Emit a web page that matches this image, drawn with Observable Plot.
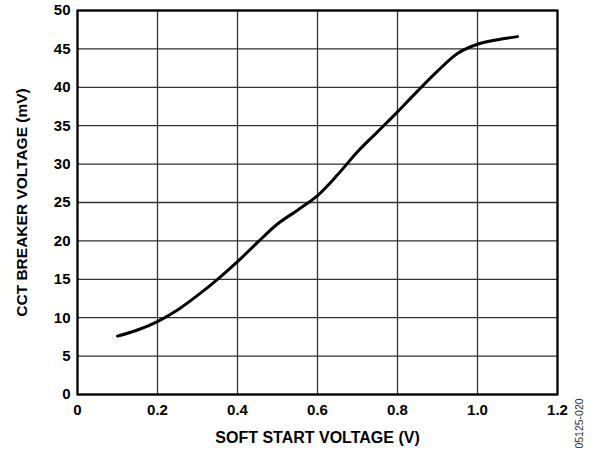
<!DOCTYPE html>
<html>
<head>
<meta charset="utf-8">
<script src="https://cdn.jsdelivr.net/npm/d3@7"></script>
<script src="https://cdn.jsdelivr.net/npm/@observablehq/plot@0.6"></script>
<style>
  html, body { margin: 0; padding: 0; background: #fff; }
  #chart svg { display: block; }
</style>
</head>
<body>
<div id="chart"></div>
<script>
const softStart = [0.1, 0.15, 0.2, 0.25, 0.3, 0.35, 0.4, 0.45, 0.5, 0.55, 0.6, 0.65, 0.7, 0.75, 0.8, 0.85, 0.9, 0.95, 1.0, 1.05, 1.1];
const breakerMv = [7.6, 8.4, 9.5, 11.0, 12.9, 15.0, 17.3, 19.8, 22.2, 24.0, 25.9, 28.6, 31.6, 34.2, 36.8, 39.5, 42.1, 44.4, 45.6, 46.2, 46.6];
const xTicks = [0, 0.2, 0.4, 0.6, 0.8, 1.0, 1.2];
const xTickLabels = ["0", "0.2", "0.4", "0.6", "0.8", "1.0", "1.2"];
const yTicks = [0, 5, 10, 15, 20, 25, 30, 35, 40, 45, 50];
const xLabel = "SOFT START VOLTAGE (V)";
const yLabel = "CCT BREAKER VOLTAGE (mV)";
const figureId = "05125-020";

const data = softStart.map((x, i) => ({x, y: breakerMv[i]}));
const font = "'Liberation Sans', Arial, sans-serif";

const chart = Plot.plot({
  width: 597,
  height: 453,
  marginLeft: 77,
  marginRight: 40,
  marginTop: 10,
  marginBottom: 59,
  style: {fontFamily: font, fontWeight: "bold", fontSize: "15px", color: "#000", background: "#fff"},
  x: {domain: [0, 1.2]},
  y: {domain: [0, 50]},
  marks: [
    Plot.gridX(xTicks, {stroke: "#333", strokeOpacity: 1, strokeWidth: 1.3}),
    Plot.gridY(yTicks, {stroke: "#333", strokeOpacity: 1, strokeWidth: 1.3}),
    Plot.axisX(xTicks, {tickSize: 0, tickPadding: 10, tickFormat: (d, i) => xTickLabels[i], fontSize: 15,
      label: null}),
    Plot.axisY(yTicks, {tickSize: 0, tickPadding: 7, fontSize: 15, label: null}),
    Plot.text([xLabel], {frameAnchor: "bottom", dy: 48, text: d => d, fontSize: 16, fontWeight: "bold", fill: "#000"}),
    Plot.text([yLabel], {frameAnchor: "left", dx: -55, rotate: -90, textAnchor: "middle", text: d => d, fontSize: 15.5, fontWeight: "bold", fill: "#000"}),
    Plot.frame({stroke: "#000", strokeWidth: 2.2}),
    Plot.line(data, {x: "x", y: "y", stroke: "#000", strokeWidth: 3, curve: "catmull-rom"}),
    Plot.text([figureId], {frameAnchor: "bottom-right", dx: 25, dy: 29, rotate: -90, text: d => d,
      textAnchor: "middle", fontSize: 10.5, fontWeight: "normal", fill: "#333"})
  ]
});
document.getElementById("chart").appendChild(chart);
</script>
</body>
</html>
